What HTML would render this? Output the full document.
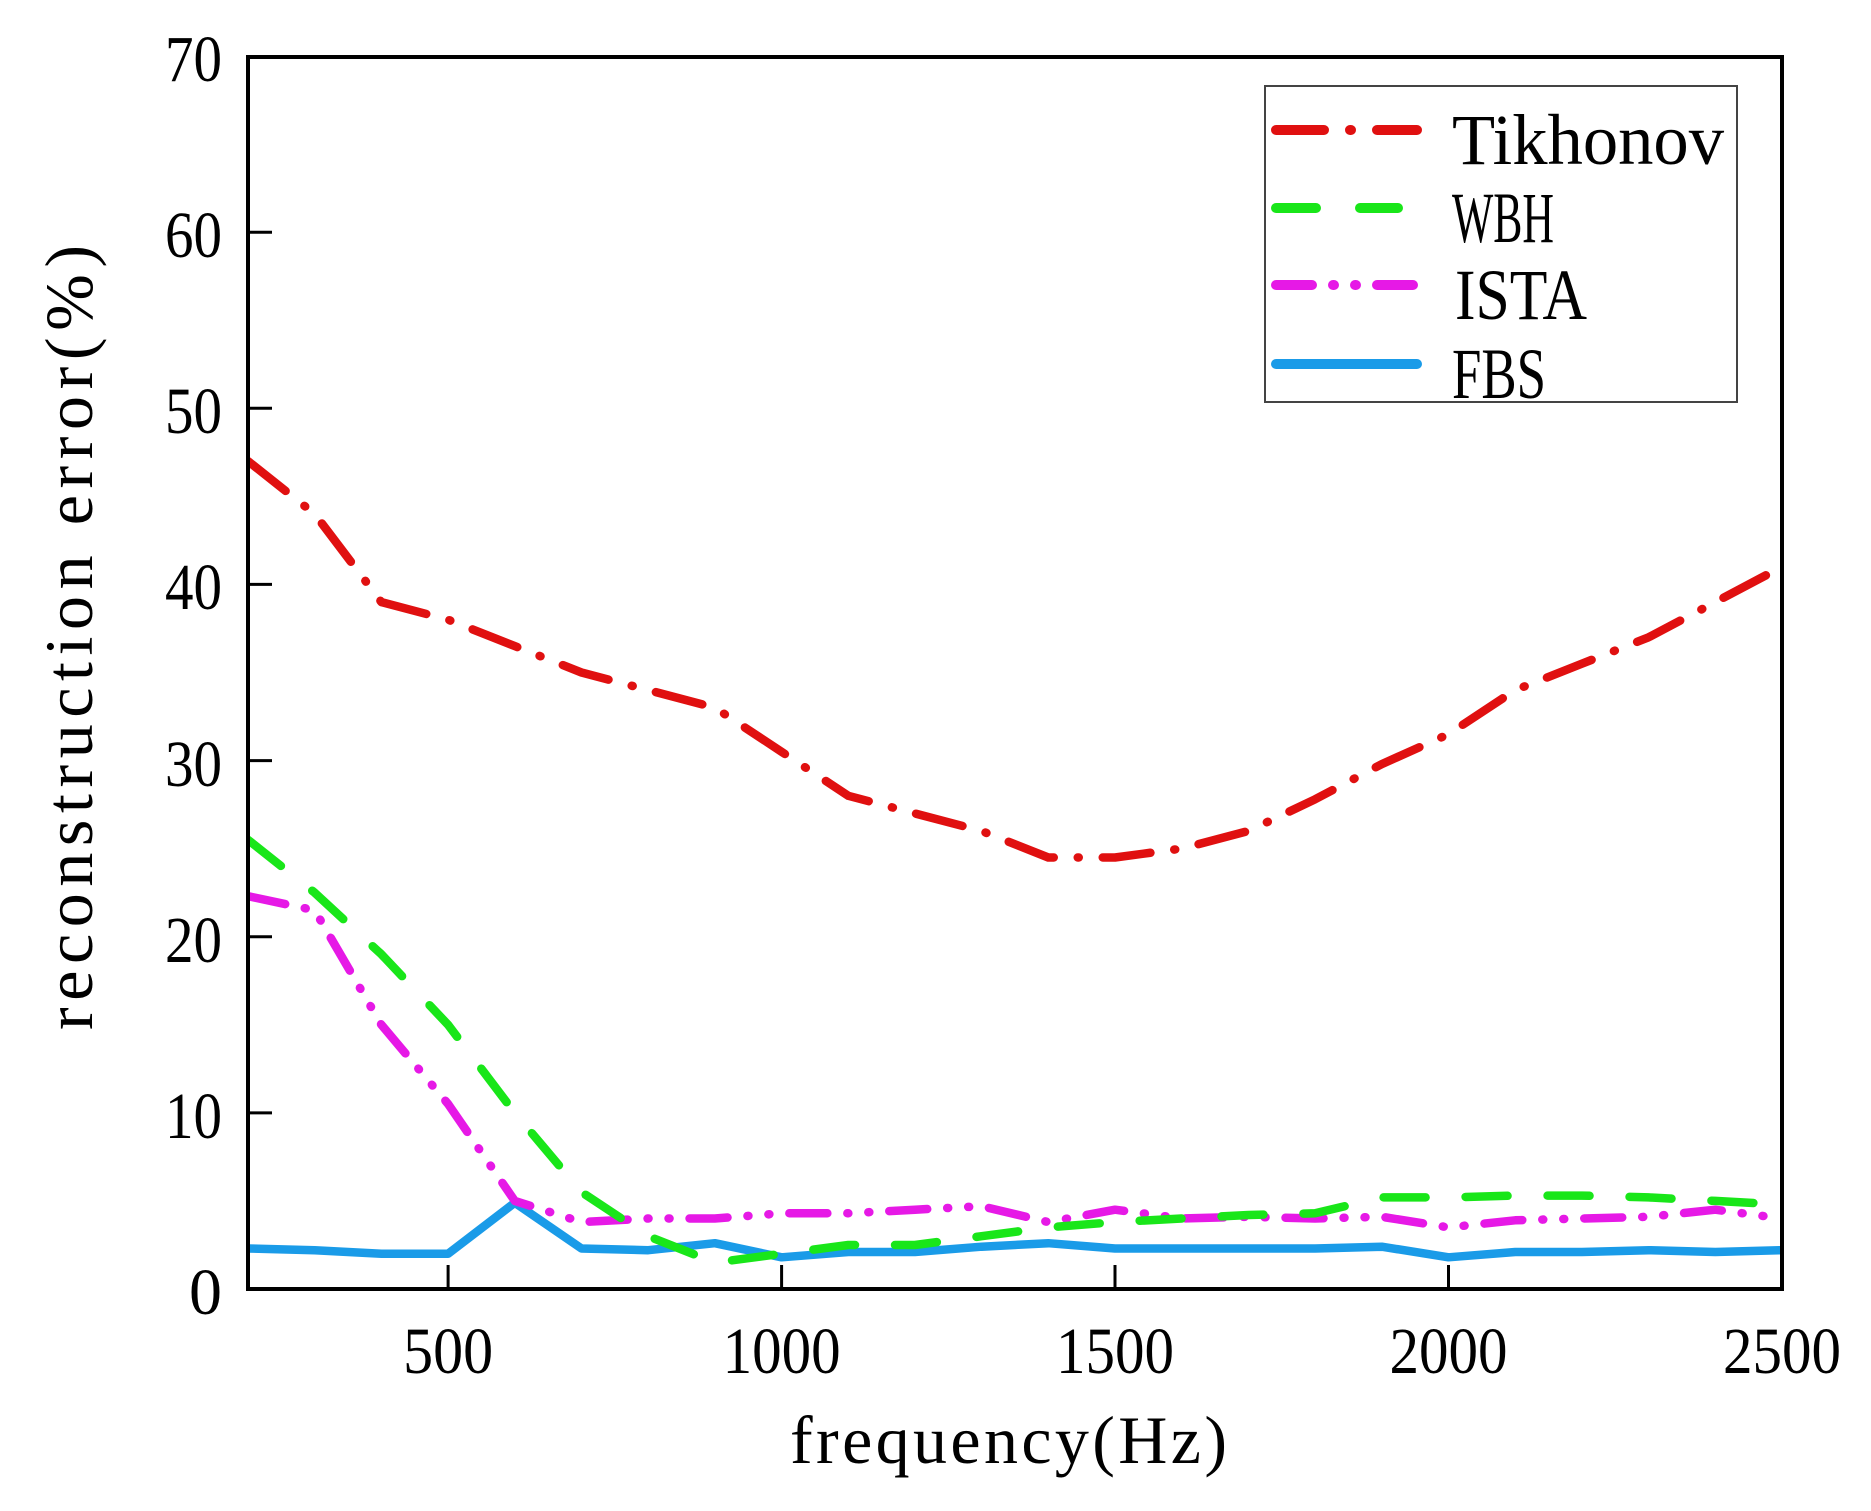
<!DOCTYPE html>
<html><head><style>html,body{margin:0;padding:0;background:#fff;}svg{display:block;}</style></head>
<body>
<svg width="1871" height="1511" viewBox="0 0 1871 1511" xmlns="http://www.w3.org/2000/svg" font-family="'Liberation Serif', serif">
<defs><clipPath id="c"><rect x="248" y="57" width="1534" height="1232"/></clipPath></defs>
<g clip-path="url(#c)" fill="none" stroke-width="8.5" stroke-linecap="round" stroke-linejoin="round">
<polyline stroke="#1a9be8" stroke-linecap="butt" points="248,1248.5 314.7,1250.2 381.4,1253.8 448.1,1253.8 514.8,1202.7 581.5,1248.5 648.2,1250.2 714.9,1243.2 781.6,1257.3 848.3,1252 914.9,1252 981.6,1246.7 1048.3,1243.2 1115,1248.5 1181.7,1248.5 1248.4,1248.5 1315.1,1248.5 1381.8,1246.7 1448.5,1257.3 1515.2,1252 1581.9,1252 1648.6,1250.2 1715.3,1252 1782,1250.2"/>
<polyline stroke="#e619e6" stroke-dasharray="38 20 1 20 1 20" points="248,896.2 314.7,910.3 381.4,1024.8 448.1,1104 514.8,1200.9 581.5,1222.1 648.2,1218.5 714.9,1218.5 781.6,1213.3 848.3,1213.3 914.9,1209.7 981.6,1206.2 1048.3,1222.1 1115,1209.7 1181.7,1218.5 1248.4,1216.8 1315.1,1218.5 1381.8,1216.8 1448.5,1227.4 1515.2,1220.3 1581.9,1218.5 1648.6,1216.8 1715.3,1209.7 1782,1218.5"/>
<polyline stroke="#19e619" stroke-dasharray="42 40" points="248,839.8 314.7,892.7 381.4,954.3 448.1,1024.8 514.8,1112.9 581.5,1192.1 648.2,1236.2 714.9,1262.6 781.6,1253.8 848.3,1245 914.9,1245 981.6,1236.2 1048.3,1227.4 1115,1222.1 1181.7,1218.5 1248.4,1215 1315.1,1213.3 1381.8,1197.4 1448.5,1197.4 1515.2,1195.6 1581.9,1195.6 1648.6,1197.4 1715.3,1200.9 1782,1204.5"/>
<polyline stroke="#e01010" stroke-dasharray="48 24 1 24" points="248,461.1 314.7,514 381.4,602.1 448.1,619.7 514.8,646.1 581.5,672.5 648.2,690.1 714.9,707.7 781.6,751.8 848.3,795.8 914.9,813.4 981.6,831 1048.3,857.5 1115,857.5 1181.7,848.6 1248.4,831 1315.1,799.3 1381.8,764.1 1448.5,734.2 1515.2,690.1 1581.9,663.7 1648.6,637.3 1715.3,602.1 1782,566.8"/>
</g>
<rect x="248" y="57" width="1534" height="1232" fill="none" stroke="#000" stroke-width="4"/>
<g stroke="#000" stroke-width="3">
<line x1="248" x2="272" y1="1112.9" y2="1112.9"/><line x1="248" x2="272" y1="936.7" y2="936.7"/><line x1="248" x2="272" y1="760.6" y2="760.6"/><line x1="248" x2="272" y1="584.4" y2="584.4"/><line x1="248" x2="272" y1="408.3" y2="408.3"/><line x1="248" x2="272" y1="232.2" y2="232.2"/>
<line x1="448.1" x2="448.1" y1="1289" y2="1265"/><line x1="781.6" x2="781.6" y1="1289" y2="1265"/><line x1="1115" x2="1115" y1="1289" y2="1265"/><line x1="1448.5" x2="1448.5" y1="1289" y2="1265"/>
</g>
<g font-size="66" text-anchor="end">
<text x="222" y="1314">0</text>
<text x="222" y="1138" textLength="57" lengthAdjust="spacingAndGlyphs">10</text>
<text x="222" y="962" textLength="57" lengthAdjust="spacingAndGlyphs">20</text>
<text x="222" y="786" textLength="57" lengthAdjust="spacingAndGlyphs">30</text>
<text x="222" y="609" textLength="57" lengthAdjust="spacingAndGlyphs">40</text>
<text x="222" y="433" textLength="57" lengthAdjust="spacingAndGlyphs">50</text>
<text x="222" y="257" textLength="57" lengthAdjust="spacingAndGlyphs">60</text>
<text x="222" y="81" textLength="57" lengthAdjust="spacingAndGlyphs">70</text>
</g>
<g font-size="66" text-anchor="middle">
<text x="448.1" y="1373" textLength="90" lengthAdjust="spacingAndGlyphs">500</text>
<text x="781.6" y="1373" textLength="118" lengthAdjust="spacingAndGlyphs">1000</text>
<text x="1115" y="1373" textLength="118" lengthAdjust="spacingAndGlyphs">1500</text>
<text x="1448.5" y="1373" textLength="118" lengthAdjust="spacingAndGlyphs">2000</text>
<text x="1782" y="1373" textLength="118" lengthAdjust="spacingAndGlyphs">2500</text>
</g>
<text x="790" y="1463" font-size="68" textLength="437" lengthAdjust="spacing">frequency(Hz)</text>
<text transform="translate(92 1030) rotate(-90)" font-size="68" textLength="785" lengthAdjust="spacing">reconstruction error(%)</text>
<rect x="1265" y="86" width="472" height="316" fill="#fff" stroke="#444" stroke-width="2"/>
<line x1="1276" x2="1417" y1="130" y2="130" stroke="#e01010" stroke-width="10" stroke-linecap="round" stroke-dasharray="48 26 1 26"/>
<line x1="1276" x2="1398" y1="208" y2="208" stroke="#19e619" stroke-width="10" stroke-linecap="round" stroke-dasharray="40 44"/>
<line x1="1276" x2="1417" y1="285" y2="285" stroke="#e619e6" stroke-width="10" stroke-linecap="round" stroke-dasharray="36 21 1 21 1 21"/>
<line x1="1276" x2="1417" y1="364" y2="364" stroke="#1a9be8" stroke-width="10" stroke-linecap="round"/>
<g font-size="72">
<text x="1452" y="164" textLength="272" lengthAdjust="spacingAndGlyphs">Tikhonov</text>
<text x="1452" y="242" textLength="102" lengthAdjust="spacingAndGlyphs">WBH</text>
<text x="1455" y="319" textLength="132" lengthAdjust="spacingAndGlyphs">ISTA</text>
<text x="1452" y="398" textLength="94" lengthAdjust="spacingAndGlyphs">FBS</text>
</g>
</svg>
</body></html>
